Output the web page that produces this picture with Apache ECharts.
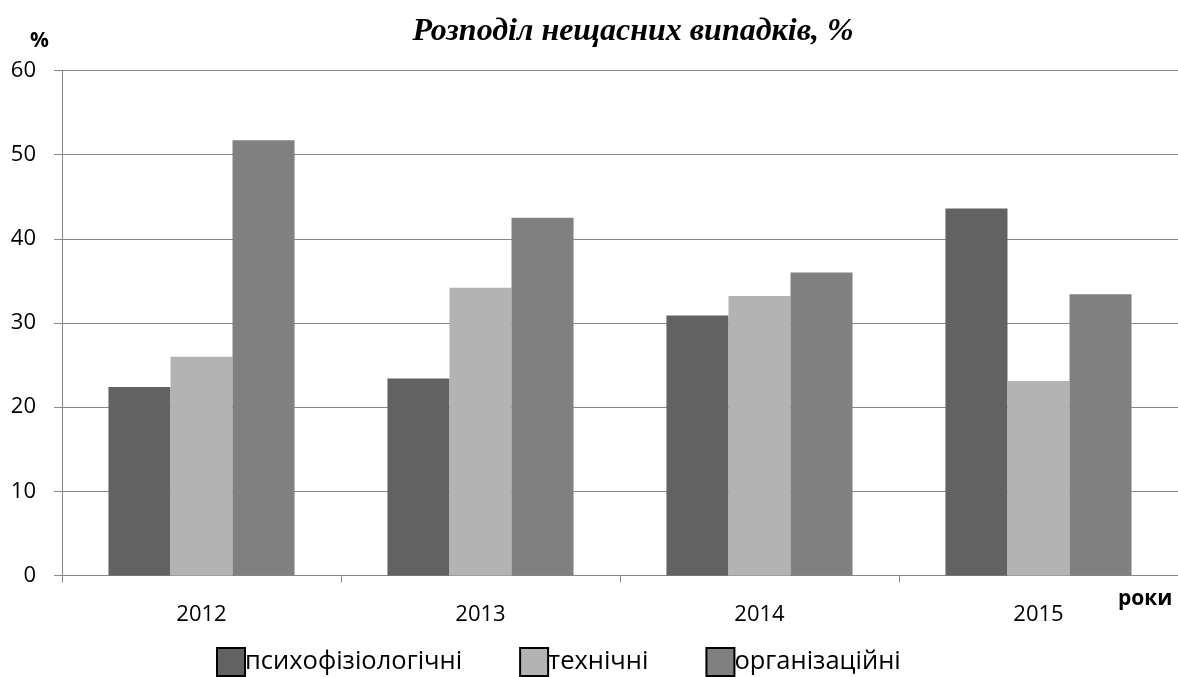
<!DOCTYPE html>
<html>
<head>
<meta charset="utf-8">
<script src="https://cdn.jsdelivr.net/npm/echarts@6/dist/echarts.min.js"></script>
<style>html,body{margin:0;padding:0;background:#fff}#c{width:1178px;height:677px}</style>
</head>
<body>
<div id="c"></div>
<script>
const categories = ['2012', '2013', '2014', '2015'];
const seriesNames = ['психофізіологічні', 'технічні', 'організаційні'];
const psycho = [22.4, 23.4, 30.9, 43.6];
const technical = [26.0, 34.2, 33.2, 23.1];
const organizational = [51.7, 42.5, 36.0, 33.4];
const yTicks = [0, 10, 20, 30, 40, 50, 60];
const colors = ['#626262', '#b3b3b3', '#808080'];

const chart = echarts.init(document.getElementById('c'), null, {renderer: 'canvas'});
const font = '"Open Sans", "Liberation Sans", sans-serif';
const values = [psycho, technical, organizational];
chart.setOption({
  animation: false,
  backgroundColor: '#fff',
  title: [
    {text: 'Розподіл нещасних випадків, %', left: 628, top: 11, textAlign: 'center',
     textStyle: {fontFamily: '"Liberation Serif", "DejaVu Serif", serif', fontStyle: 'italic', fontWeight: 'bold', fontSize: 32, color: '#000'}},
    {text: '%', left: 25, top: 26, textStyle: {fontFamily: font, fontWeight: 'bold', fontSize: 21, color: '#000'}},
    {text: 'роки', left: 1113, top: 584, textStyle: {fontFamily: font, fontWeight: 'bold', fontSize: 21, color: '#000'}}
  ],
  legend: {
    left: 211, top: 642,
    itemWidth: 28, itemHeight: 28, itemGap: 57,
    icon: 'rect',
    itemStyle: {borderColor: '#000', borderWidth: 2},
    textStyle: {fontFamily: font, fontSize: 25.5, color: '#000', padding: [0, 0, 0, -5]},
    data: seriesNames
  },
  grid: {left: 62, top: 70.4, bottom: 101.4, width: 1121, containLabel: false},
  xAxis: {
    type: 'category', data: categories,
    axisLine: {lineStyle: {color: '#888', width: 1}},
    axisTick: {show: true, length: 7, lineStyle: {color: '#888'}},
    axisLabel: {fontFamily: font, fontSize: 22, color: '#000', margin: 28}
  },
  yAxis: {
    type: 'value', min: yTicks[0], max: yTicks[yTicks.length - 1], interval: 10,
    axisLine: {show: true, lineStyle: {color: '#888', width: 1}},
    axisTick: {show: true, length: 8, lineStyle: {color: '#888'}},
    axisLabel: {fontFamily: font, fontSize: 22, color: '#000', margin: 26},
    splitLine: {lineStyle: {color: '#888', width: 1}}
  },
  series: seriesNames.map((n, i) => ({
    name: n, type: 'bar', data: values[i],
    barGap: '0%', barCategoryGap: '33.3%',
    itemStyle: {color: colors[i]}
  }))
});
</script>
</body>
</html>
